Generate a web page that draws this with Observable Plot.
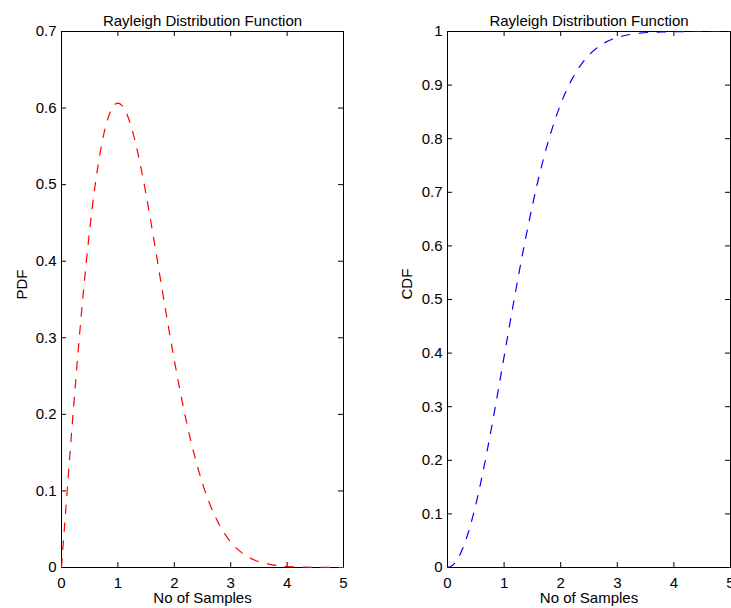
<!DOCTYPE html>
<html>
<head>
<meta charset="utf-8">
<script src="https://cdn.jsdelivr.net/npm/d3@7"></script>
<script src="https://cdn.jsdelivr.net/npm/@observablehq/plot@0.6"></script>
<style>
  html, body { margin: 0; padding: 0; background: #fff; overflow: hidden; }
  #wrap { display: flex; width: 731px; height: 608px; overflow: hidden; }
</style>
</head>
<body>
<div id="wrap"></div>
<script>
// ---- data ----
const titleText = "Rayleigh Distribution Function";
const xLabel = "No of Samples";
const xSamples = [0,0.1,0.2,0.3,0.4,0.5,0.6,0.7,0.8,0.9,1.0,1.1,1.2,1.3,1.4,1.5,1.6,1.7,1.8,1.9,2.0,2.1,2.2,2.3,2.4,2.5,2.6,2.7,2.8,2.9,3.0,3.2,3.4,3.6,3.8,4.0,4.5,5.0];
const pdfValues = [0,0.0995,0.196,0.2868,0.3692,0.4412,0.5012,0.5478,0.5809,0.6003,0.6065,0.6007,0.5841,0.5585,0.5254,0.4870,0.4448,0.4007,0.3562,0.3125,0.2707,0.2316,0.1956,0.1633,0.1348,0.1098,0.0885,0.0705,0.0555,0.0433,0.0333,0.0191,0.0105,0.0055,0.0028,0.0013,0.0002,0.0000];
const cdfValues = [0,0.005,0.0198,0.0440,0.0769,0.1175,0.1647,0.2173,0.2739,0.3330,0.3935,0.4539,0.5132,0.5704,0.6247,0.6753,0.7220,0.7643,0.8021,0.8355,0.8647,0.8897,0.9111,0.9290,0.9439,0.9561,0.9660,0.9739,0.9802,0.9851,0.9889,0.9940,0.9969,0.9985,0.9993,0.9997,1.0,1.0];
const xTicks = [0,1,2,3,4,5];
const pdfTicks = [0,0.1,0.2,0.3,0.4,0.5,0.6,0.7];
const cdfTicks = [0,0.1,0.2,0.3,0.4,0.5,0.6,0.7,0.8,0.9,1];

const FONT = "'Liberation Sans', Arial, Helvetica, sans-serif";
const H = 608, MT = 31, MB = 41, TICK = 5;

function panel({width, marginLeft, marginRight, yDomain, yTicks, yLabel, values, color, yLabelDx}) {
  const data = xSamples.map((x, i) => ({x, y: values[i]}));
  const plotW = width - marginLeft - marginRight;
  const plotH = H - MT - MB;
  return Plot.plot({
    width, height: H,
    marginTop: MT, marginBottom: MB, marginLeft, marginRight,
    style: {fontFamily: FONT, fontSize: "15px", color: "black", background: "white", overflow: "visible"},
    x: {domain: [0, 5], ticks: xTicks},
    y: {domain: yDomain, ticks: yTicks},
    marks: [
      Plot.axisX({ticks: xTicks, tickSize: 0, tickPadding: 10, label: null, tickFormat: d => `${d}`}),
      Plot.axisY({ticks: yTicks, tickSize: 0, tickPadding: 5, label: null, tickFormat: d => `${d}`}),
      // inward ticks on all four sides
      Plot.tickX(xTicks, {x: d => d, stroke: "black", insetTop: plotH - TICK}),
      Plot.tickX(xTicks, {x: d => d, stroke: "black", insetBottom: plotH - TICK}),
      Plot.tickY(yTicks, {y: d => d, stroke: "black", insetRight: plotW - TICK}),
      Plot.tickY(yTicks, {y: d => d, stroke: "black", insetLeft: plotW - TICK}),
      Plot.frame({stroke: "black", strokeWidth: 1}),
      Plot.line(data, {x: "x", y: "y", stroke: color, strokeWidth: 1.2, strokeDasharray: "8.5,9.5", curve: "monotone-x"}),
      Plot.text([titleText], {text: d => d, frameAnchor: "top", dy: -16, fontSize: 15, fill: "black"}),
      Plot.text([xLabel], {text: d => d, frameAnchor: "bottom", dy: 35, fontSize: 15, fill: "black"}),
      Plot.text([yLabel], {text: d => d, frameAnchor: "left", dx: yLabelDx, rotate: -90, fontSize: 15, fill: "black"})
    ]
  });
}

const wrap = document.getElementById("wrap");
wrap.append(panel({width: 370, marginLeft: 61, marginRight: 27, yDomain: [0, 0.7], yTicks: pdfTicks, yLabel: "PDF", values: pdfValues, color: "#ff0000", yLabelDx: -39}));
wrap.append(panel({width: 361, marginLeft: 77, marginRight: 1, yDomain: [0, 1], yTicks: cdfTicks, yLabel: "CDF", values: cdfValues, color: "#0000ff", yLabelDx: -40}));
</script>
</body>
</html>
